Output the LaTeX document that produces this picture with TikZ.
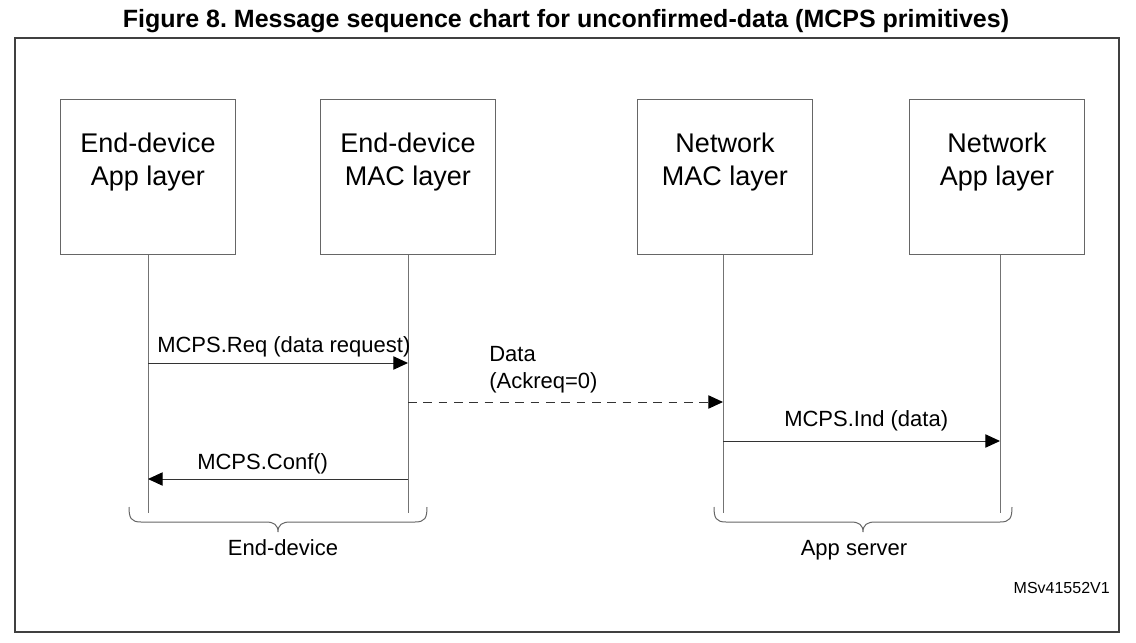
\documentclass[tikz,border=0pt]{standalone}
\usepackage{fontspec}
\setmainfont{Liberation Sans}
\usetikzlibrary{arrows.meta}
\frenchspacing
\begin{document}
\begin{tikzpicture}[x=0.75pt,y=-0.75pt,
  frameline/.style={draw=black!75,line width=1.5pt},
  lifebox/.style={draw=black!60,line width=0.75pt,minimum width=131.25pt,minimum height=116.25pt,inner sep=0pt},
  boxtext/.style={anchor=base,font=\fontsize{20.25}{24}\selectfont,inner sep=0pt},
  lifeline/.style={draw=black!55,line width=0.75pt},
  msg/.style={draw=black!80,line width=0.75pt,-{Triangle[length=11pt,width=10pt,fill=black,color=black]}},
  dmsg/.style={msg,dash pattern=on 6.5pt off 5pt},
  msgtext/.style={anchor=base west,font=\fontsize{16.5}{20}\selectfont,inner sep=0pt},
  grouptext/.style={anchor=base,font=\fontsize{16.5}{20}\selectfont,inner sep=0pt},
  bracepath/.style={draw=black!60,line width=0.75pt},
  ]
\useasboundingbox (0,0) rectangle (1136,643);
% title
\node[anchor=base,inner sep=0pt,font=\fontsize{18.75}{22}\selectfont\bfseries] (title) at (566,27)
  {Figure 8. Message sequence chart for unconfirmed-data (MCPS primitives)};
% frame
\draw[frameline] (15,38) rectangle (1119,632);
% boxes
\node[lifebox] (b1) at (148,176.5) {};
\node[lifebox] (b2) at (408,176.5) {};
\node[lifebox] (b3) at (725,176.5) {};
\node[lifebox] (b4) at (997,176.5) {};
\node[boxtext] (t1a) at (148,152) {End-device};
\node[boxtext] (t1b) at (148,185) {App layer};
\node[boxtext] (t2a) at (408,152) {End-device};
\node[boxtext] (t2b) at (408,185) {MAC layer};
\node[boxtext] (t3a) at (725,152) {Network};
\node[boxtext] (t3b) at (725,185) {MAC layer};
\node[boxtext] (t4a) at (997,152) {Network};
\node[boxtext] (t4b) at (997,185) {App layer};
% lifelines
\coordinate (l1) at (148,513);
\coordinate (l2) at (408,513);
\coordinate (l3) at (723,513);
\coordinate (l4) at (1000,513);
\draw[lifeline] (b1.south -| l1) -- (l1);
\draw[lifeline] (b2.south -| l2) -- (l2);
\draw[lifeline] (b3.south -| l3) -- (l3);
\draw[lifeline] (b4.south -| l4) -- (l4);
% messages
\coordinate (r1) at (148,363);
\coordinate (r2) at (408,363);
\coordinate (d2) at (408,402);
\coordinate (d3) at (723,402);
\coordinate (i3) at (723,441);
\coordinate (i4) at (1000,441);
\coordinate (c2) at (408,479);
\coordinate (c1) at (148,479);
\draw[msg] (r1) -- (r2);
\draw[dmsg] (d2) -- (d3);
\draw[msg] (i3) -- (i4);
\draw[msg] (c2) -- (c1);
\node[msgtext] (lreq) at (157,352) {MCPS.Req (data request)};
\node[msgtext] (ldata) at (489,361) {Data};
\node[msgtext] (lack) at (489,388) {(Ackreq=0)};
\node[msgtext] (lind) at (784,426) {MCPS.Ind (data)};
\node[msgtext] (lconf) at (197,469) {MCPS.Conf()};
% braces
\draw[bracepath] (129,507) .. controls (129,518) and (131,522) .. (141,522) -- (266,522)
  .. controls (274,522) and (278,525) .. (278,532)
  .. controls (278,525) and (282,522) .. (290,522) -- (415,522)
  .. controls (425,522) and (427,518) .. (427,507);
\draw[bracepath] (714,507) .. controls (714,518) and (716,522) .. (726,522) -- (851,522)
  .. controls (859,522) and (863,525) .. (863,532)
  .. controls (863,525) and (867,522) .. (875,522) -- (1000,522)
  .. controls (1010,522) and (1012,518) .. (1012,507);
\node[grouptext] (ged) at (283,555) {End-device};
\node[grouptext] (gas) at (854,555) {App server};
\node[anchor=base east,inner sep=0pt,font=\fontsize{12}{14}\selectfont] (fid) at (1110,593) {MSv41552V1};
\end{tikzpicture}
\end{document}
